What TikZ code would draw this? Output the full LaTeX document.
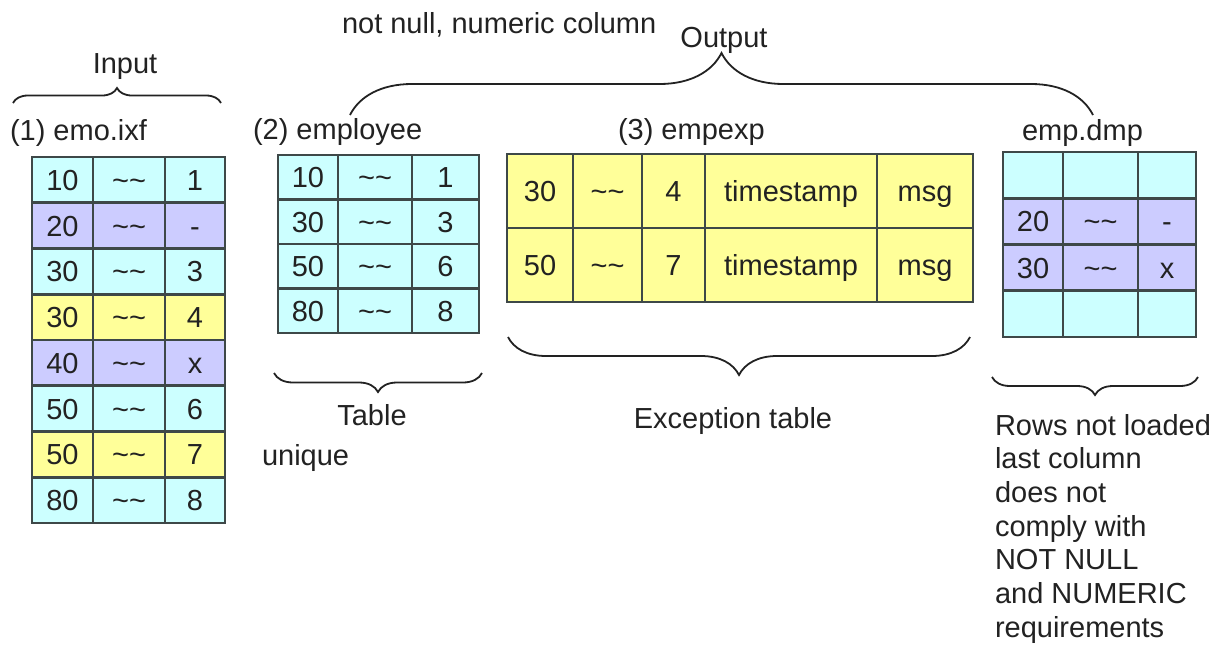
\documentclass[tikz,border=0pt]{standalone}
\usepackage{fontspec}
\setmainfont{Liberation Sans}
\usetikzlibrary{decorations.pathreplacing}
\definecolor{cy}{HTML}{CCFFFF}
\definecolor{pu}{HTML}{CCCCFF}
\definecolor{ye}{HTML}{FFFF99}
\definecolor{tline}{HTML}{3E4848}
\definecolor{txt}{HTML}{222222}
\newcommand\tld{\textasciitilde\textasciitilde}
\tikzset{
  cell/.style={draw=tline, line width=2.6pt, inner sep=0pt, outer sep=0pt,
    text height=20.8pt, text depth=0pt, text=txt},
  lbl/.style={inner sep=0pt, outer sep=0pt, text=txt},
  brc/.style={decorate, decoration={brace, amplitude=#1}, line width=1.8pt, draw=txt},
  brcdown/.style={decorate, decoration={brace, mirror, amplitude=#1}, line width=1.8pt, draw=txt}
}
\begin{document}
\begin{tikzpicture}[x=1pt,y=-1pt,font=\fontsize{29}{33.7}\selectfont]
\useasboundingbox (0,0) rectangle (1221,646);

% ---------- Input table (1) emo.ixf
\foreach \a/\c/\col [count=\r] in {10/1/cy,20/-/pu,30/3/cy,30/4/ye,40/x/pu,50/6/cy,50/7/ye,80/8/cy}{
  \pgfmathsetmacro\yy{157+(\r-0.5)*45.75}
  \node[cell,fill=\col,minimum width=61pt,minimum height=45.75pt] (in-\r-1) at (62.5,\yy) {\a};
  \node[cell,fill=\col,minimum width=72pt,minimum height=45.75pt] (in-\r-2) at (129,\yy) {\tld};
  \node[cell,fill=\col,minimum width=60pt,minimum height=45.75pt] (in-\r-3) at (195,\yy) {\c};
}

% ---------- (2) employee
\foreach \a/\c [count=\r] in {10/1,30/3,50/6,80/8}{
  \pgfmathsetmacro\yy{155+(\r-0.5)*44.5}
  \node[cell,fill=cy,minimum width=60pt,minimum height=44.5pt] (em-\r-1) at (308,\yy) {\a};
  \node[cell,fill=cy,minimum width=74pt,minimum height=44.5pt] (em-\r-2) at (375,\yy) {\tld};
  \node[cell,fill=cy,minimum width=67pt,minimum height=44.5pt] (em-\r-3) at (445.5,\yy) {\c};
}

% ---------- (3) empexp
\foreach \a/\c [count=\r] in {30/4,50/7}{
  \pgfmathsetmacro\yy{154+(\r-0.5)*74}
  \node[cell,fill=ye,minimum width=66pt,minimum height=74pt] (ex-\r-1) at (540,\yy) {\a};
  \node[cell,fill=ye,minimum width=69pt,minimum height=74pt] (ex-\r-2) at (607.5,\yy) {\tld};
  \node[cell,fill=ye,minimum width=63pt,minimum height=74pt] (ex-\r-3) at (673.5,\yy) {\c};
  \node[cell,fill=ye,minimum width=172pt,minimum height=74pt] (ex-\r-4) at (791,\yy) {timestamp};
  \node[cell,fill=ye,minimum width=96pt,minimum height=74pt] (ex-\r-5) at (925,\yy) {msg};
}

% ---------- emp.dmp
\foreach \a/\b/\c/\col [count=\r] in {{}/{}/{}/cy,20/\tld/-/pu,30/\tld/x/pu,{}/{}/{}/cy}{
  \pgfmathsetmacro\yy{152+(\r-0.5)*46.25}
  \node[cell,fill=\col,minimum width=60pt,minimum height=46.25pt] (dm-\r-1) at (1033,\yy) {\a};
  \node[cell,fill=\col,minimum width=75pt,minimum height=46.25pt] (dm-\r-2) at (1100.5,\yy) {\b};
  \node[cell,fill=\col,minimum width=58pt,minimum height=46.25pt] (dm-\r-3) at (1167,\yy) {\c};
}

% ---------- labels
\node[lbl,anchor=base west] (nn) at (342,33) {not null, numeric column};
\node[lbl,anchor=base] (out) at (724,47) {Output};
\node[lbl,anchor=base] (inp) at (125,73) {Input};
\node[lbl,anchor=base west] (t1) at (10,140) {(1) emo.ixf};
\node[lbl,anchor=base west] (t2) at (253,139) {(2) employee};
\node[lbl,anchor=base west] (t3) at (618,139) {(3) empexp};
\node[lbl,anchor=base west] (t4) at (1022,140) {emp.dmp};
\node[lbl,anchor=base] (tab) at (372,425) {Table};
\node[lbl,anchor=base west] (uni) at (262,465) {unique};
\node[lbl,anchor=base] (exc) at (733,428) {Exception table};
\node[lbl,anchor=north west,align=left] (rows) at (995,414)
  {Rows not loaded\\last column\\does not\\comply with\\NOT NULL\\and NUMERIC\\requirements};

% ---------- braces
\coordinate (inL) at (13,103);   \coordinate (inR) at (221,103);
\coordinate (outL) at (350,115); \coordinate (outR) at (1093,115);
\coordinate (emL) at (274,373);  \coordinate (emR) at (482,373);
\coordinate (exL) at (508,337);  \coordinate (exR) at (970,337);
\coordinate (dmL) at (992,377);  \coordinate (dmR) at (1198,377);
\draw[brc=15pt] (inL) -- (inR);
\draw[brc=62pt] (outL) -- (outR);
\draw[brcdown=19pt] (emL) -- (emR);
\draw[brcdown=38pt] (exL) -- (exR);
\draw[brcdown=18pt] (dmL) -- (dmR);
\end{tikzpicture}
\end{document}
